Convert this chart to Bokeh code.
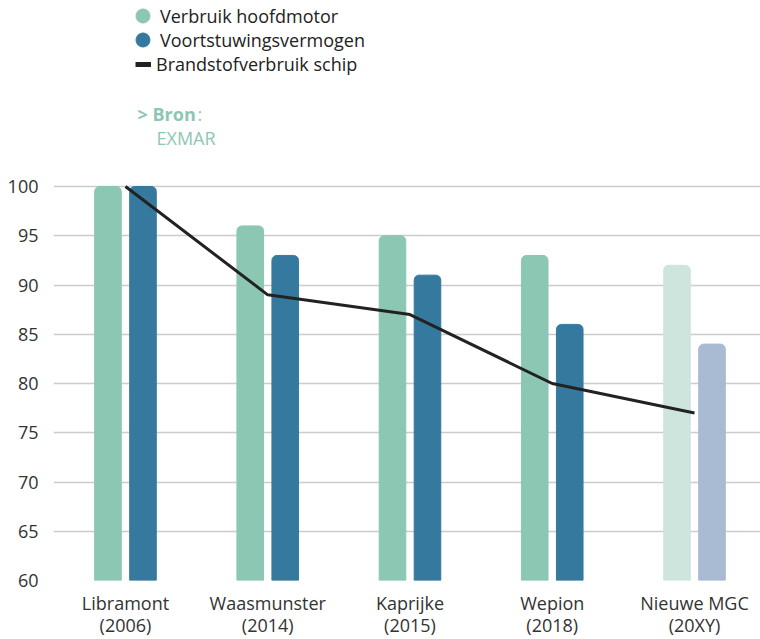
from bokeh.plotting import figure
from bokeh.models import Legend, LegendItem, Label, FixedTicker, Range1d
from bokeh.embed import file_html
from bokeh.resources import INLINE

categories = ["Libramont\n(2006)", "Waasmunster\n(2014)", "Kaprijke\n(2015)", "Wepion\n(2018)", "Nieuwe MGC\n(20XY)"]
hoofdmotor = [100, 96, 95, 93, 92]
voortstuwing = [100, 93, 91, 86, 84]
brandstof = [100, 89, 87, 80, 77]
y_ticks = [60, 65, 70, 75, 80, 85, 90, 95, 100]

green_cols = ["#8cc7b4", "#8cc7b4", "#8cc7b4", "#8cc7b4", "#cde5dd"]
blue_cols = ["#357a9e", "#357a9e", "#357a9e", "#357a9e", "#a9bbd3"]

FONT = "Open Sans"
FS = "18px"
xs = list(range(len(categories)))
nan = float("nan")

FB = 580  # page y of frame bottom
scale = (FB - 186) / 40.0
ymax = 100 + 186 / scale

p = figure(width=760, height=639, output_backend="svg", toolbar_location=None,
           x_range=Range1d(-0.506, 4.464), y_range=Range1d(60, ymax),
           min_border_left=53, min_border_right=0, min_border_top=0, min_border_bottom=59)
p.outline_line_color = None
p.background_fill_color = "white"
p.border_fill_color = "white"

off = 0.123
w = 0.187
p.vbar(x=[x - off for x in xs], top=hoofdmotor, bottom=60, width=w, color=green_cols,
       border_radius=(5, 5, 0, 0))
p.vbar(x=[x + off for x in xs], top=voortstuwing, bottom=60, width=w, color=blue_cols,
       border_radius=(5, 5, 0, 0))
p.line(x=xs, y=brandstof, line_color="#222222", line_width=3)

# legend proxies (no visible data)
r1 = p.scatter(x=[nan], y=[nan], marker="circle", color="#8cc7b4")
r2 = p.scatter(x=[nan], y=[nan], marker="circle", color="#357a9e")
r3 = p.line(x=[nan, nan], y=[nan, nan], line_color="#222222", line_width=5)

common = dict(orientation="vertical", label_text_font=FONT, label_text_font_size=FS,
              label_text_color="#222222", padding=0, margin=0,
              border_line_color=None, background_fill_alpha=0)
legend_a1 = Legend(items=[LegendItem(label="Verbruik hoofdmotor", renderers=[r1])],
                   location=(72, FB - 33), glyph_width=35, glyph_height=35, label_height=35,
                   spacing=0, label_standoff=-10, **common)
legend_a2 = Legend(items=[LegendItem(label="Voortstuwingsvermogen", renderers=[r2])],
                   location=(72, FB - 57), glyph_width=35, glyph_height=35, label_height=35,
                   spacing=0, label_standoff=-10, **common)
legend_b = Legend(items=[LegendItem(label="Brandstofverbruik schip", renderers=[r3])],
                  location=(82, FB - 76), glyph_width=16, glyph_height=20, label_height=20,
                  spacing=0, label_standoff=5, **common)
p.add_layout(legend_a1, "center")
p.add_layout(legend_a2, "center")
p.add_layout(legend_b, "center")

p.add_layout(Label(x=84, y=FB - 113, x_units="screen", y_units="screen", text="> Bron",
                   text_font=FONT, text_font_style="bold", text_font_size=FS,
                   text_color="#8cc7b4", text_baseline="middle"))
p.add_layout(Label(x=144, y=FB - 113, x_units="screen", y_units="screen", text=":",
                   text_font=FONT, text_font_size=FS,
                   text_color="#8cc7b4", text_baseline="middle"))
p.add_layout(Label(x=103, y=FB - 137, x_units="screen", y_units="screen", text="EXMAR",
                   text_font=FONT, text_font_size=FS,
                   text_color="#8cc7b4", text_baseline="middle"))

p.xaxis.ticker = FixedTicker(ticks=xs)
p.xaxis.major_label_overrides = {i: c for i, c in enumerate(categories)}
p.xaxis.major_label_text_font = FONT
p.xaxis.major_label_text_font_size = FS
p.xaxis.major_label_text_color = "#333333"
p.xaxis.major_label_text_line_height = 0.92
p.xaxis.axis_line_color = None
p.xaxis.major_tick_line_color = None
p.xaxis.minor_tick_line_color = None
p.xaxis.major_tick_out = 0
p.xaxis.major_label_standoff = 10

p.yaxis.ticker = FixedTicker(ticks=y_ticks)
p.yaxis.major_label_text_font = FONT
p.yaxis.major_label_text_font_size = FS
p.yaxis.major_label_text_color = "#333333"
p.yaxis.axis_line_color = None
p.yaxis.major_tick_line_color = None
p.yaxis.minor_tick_line_color = None
p.yaxis.major_label_standoff = 9

p.xgrid.grid_line_color = None
p.ygrid.ticker = FixedTicker(ticks=y_ticks)
p.ygrid.grid_line_color = "#cccccc"
p.ygrid.grid_line_width = 1.5

open("out.html", "w").write(file_html(p, INLINE))
